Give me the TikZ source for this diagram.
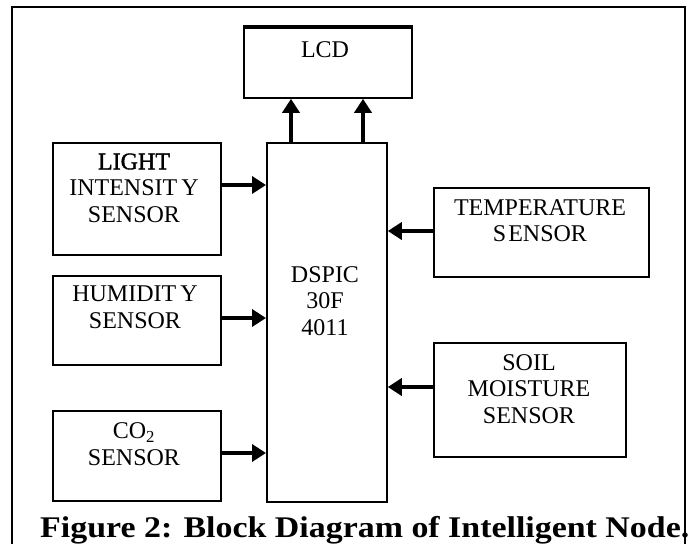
\documentclass[tikz,border=0pt]{standalone}
\usepackage{fontspec}
\setmainfont{Liberation Serif}
\newfontfamily\heavy[FakeBold=1.5]{Liberation Serif}
\usetikzlibrary{arrows.meta,calc}
\begin{document}
\begin{tikzpicture}[x=1pt,y=-1pt,
  box/.style={draw,line width=1.8pt,anchor=north west,inner sep=0pt},
  lbl/.style={align=center,font=\fontsize{24}{26.5}\selectfont,inner sep=0pt},
  arr/.style={line width=4.5pt,-{Triangle[length=14pt,width=17pt]}}]
\useasboundingbox (0,0) rectangle (691,544);
\fill[white] (0,0) rectangle (691,544);
% outer frame
\draw[line width=2.2pt] (12,544) -- (12,7) -- (685,7) -- (685,544);
% boxes
\node[box,minimum width=168pt,minimum height=70pt] (lcd) at (243,27) {};
\draw[line width=3.5pt] (lcd.north west) -- (lcd.north east);
\node[box,minimum width=120pt,minimum height=359pt] (dspic) at (266,142) {};
\node[box,minimum width=168pt,minimum height=112pt] (light) at (52,142) {};
\node[box,minimum width=168pt,minimum height=89pt] (hum) at (52,275) {};
\node[box,minimum width=168pt,minimum height=90pt] (co2) at (52,410) {};
\node[box,minimum width=215pt,minimum height=89pt] (temp) at (433,187) {};
\node[box,minimum width=192pt,minimum height=114pt] (soil) at (433,342) {};
% labels
\node[lbl] (tlcd) at (325,50) {LCD};
\node[lbl] (tdsp) at (325,301) {DSPIC\\30F\\4011};
\node[lbl] (tlight) at (134,188) {{\heavy LIGHT}\\INTENSIT\kern4pt Y\\SENSOR};
\node[lbl] (thum) at (135,307.5) {HUMIDIT\kern4pt Y\\SENSOR};
\node[lbl] (tco2) at (134,444) {CO\textsubscript{2}\\SENSOR};
\node[lbl] (ttemp) at (540,220.5) {TEMPERATURE\\S\kern2pt ENSOR};
\node[lbl] (tsoil) at (529,389) {SOIL\\MOISTURE\\SENSOR};
% arrow levels
\coordinate (y1) at (0,185);
\coordinate (y2) at (0,318);
\coordinate (y3) at (0,453);
\coordinate (y4) at (0,231);
\coordinate (y5) at (0,387);
\coordinate (x1) at (291,0);
\coordinate (x2) at (363,0);
% connectors
\draw[arr] (light.east |- y1) -- (dspic.west |- y1);
\draw[arr] (hum.east |- y2) -- (dspic.west |- y2);
\draw[arr] (co2.east |- y3) -- (dspic.west |- y3);
\draw[arr] (temp.west |- y4) -- (dspic.east |- y4);
\draw[arr] (soil.west |- y5) -- (dspic.east |- y5);
\draw[arr] (x1 |- dspic.north) -- (x1 |- lcd.south);
\draw[arr] (x2 |- dspic.north) -- (x2 |- lcd.south);
% caption
\node[anchor=base west,inner sep=0pt,font=\bfseries\fontsize{30}{32}\selectfont] (cap) at (40,537) {\scalebox{1.13}[1]{Figure 2: Block Diagram of Intelligent Node.}};
\end{tikzpicture}
\end{document}
